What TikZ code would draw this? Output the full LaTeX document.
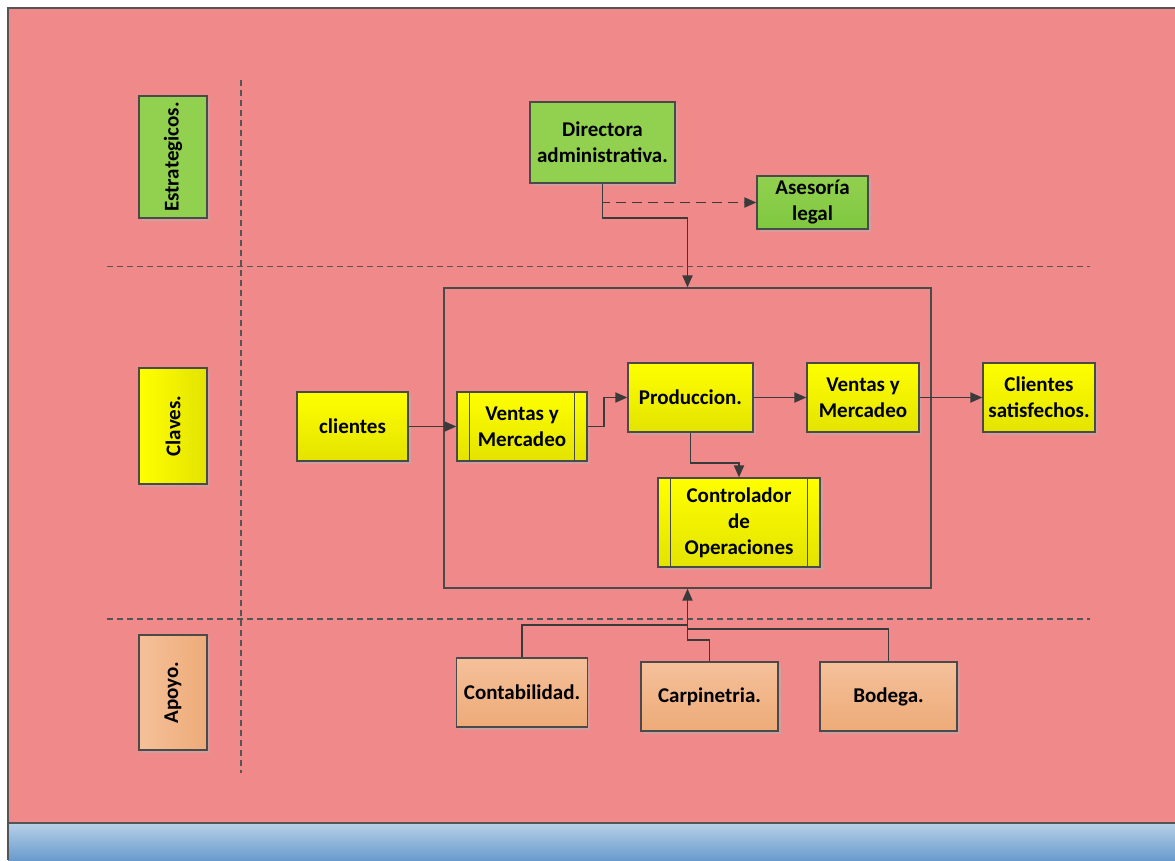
\documentclass[tikz,border=0pt]{standalone}
\usepackage{fontspec}
\setmainfont{Carlito}
\usetikzlibrary{arrows.meta,shadows}
\definecolor{bgpink}{HTML}{F08989}
\definecolor{bandtop}{HTML}{B7D0E6}
\definecolor{bandbot}{HTML}{6A9BCE}
\definecolor{framegray}{HTML}{555555}
\definecolor{linegray}{HTML}{3A3A3A}
\definecolor{boxline}{HTML}{4A4A4A}
\definecolor{gr}{HTML}{92D050}
\definecolor{grdark}{HTML}{7FC83F}
\definecolor{ylw}{HTML}{FFFF00}
\definecolor{ylwdark}{HTML}{E3E300}
\definecolor{org}{HTML}{F5C09A}
\definecolor{orgdark}{HTML}{EDAB78}
\definecolor{shadowgray}{HTML}{B4B4B4}
\begin{document}
\begin{tikzpicture}[x=1pt,y=-1pt,
  every node/.style={font=\fontsize{21}{26}\selectfont\bfseries, align=center, inner sep=0pt},
  bx/.style={draw=boxline, line width=1.2pt,
    drop shadow={shadow xshift=2.5pt, shadow yshift=-2.5pt, fill=shadowgray, opacity=0.5}},
  grbox/.style={bx, fill=gr},
  grshade/.style={bx, top color=gr, bottom color=grdark},
  ybox/.style={bx, top color=ylw, bottom color=ylwdark},
  yside/.style={bx, left color=ylw, right color=ylwdark},
  obox/.style={bx, top color=org, bottom color=orgdark},
  oside/.style={bx, left color=org, right color=orgdark},
  conn/.style={draw=linegray, line width=1.8pt},
  arr/.style={conn, -{Triangle[length=12pt,width=10pt]}},
  dashline/.style={draw=framegray, line width=1.1pt, dash pattern=on 6pt off 4pt},
  sidetext/.style={rotate=90},
  inner/.style={draw=boxline, line width=1.2pt}
]
\useasboundingbox (0,0) rectangle (1175,860);
\fill[white] (0,0) rectangle (1175,860);
\fill[bgpink] (8,8) rectangle (1175,823);
\shade[top color=bandtop, bottom color=bandbot] (8,823) rectangle (1175,860);
\draw[framegray, line width=1.2pt] (8,860) -- (8,8) -- (1175,8);
\draw[framegray, line width=1.6pt] (8,823) -- (1175,823);

% separators
\draw[dashline] (241,80) -- (241,773);
\draw[dashline] (107,266.5) -- (1090,266.5);
\draw[dashline] (107,619) -- (1090,619);

% side labels
\node[grbox, minimum width=68pt, minimum height=122pt] (estr) at (173,157) {};
\node[sidetext] (estrt) at (estr) {Estrategicos.};
\node[yside, minimum width=68pt, minimum height=116pt] (clav) at (173,426) {};
\node[sidetext] (clavt) at (clav) {Claves.};
\node[oside, minimum width=68pt, minimum height=115pt] (apoy) at (173,692.5) {};
\node[sidetext] (apoyt) at (apoy) {Apoyo.};

% strategic
\node[grbox, minimum width=145pt, minimum height=81pt] (dir) at (602.5,142.5) {Directora\\administrativa.};
\node[grshade, minimum width=111pt, minimum height=53pt] (ases) at (812.5,202.5) {Asesoría\\legal};

% big frame
\node[draw=boxline, line width=1.2pt, minimum width=487pt, minimum height=300pt] (big) at (687.5,438) {};

% key processes
\node[ybox, minimum width=111pt, minimum height=69pt] (cli) at (352.5,426.5) {clientes};
\node[ybox, minimum width=130pt, minimum height=69pt] (v1) at (522,426.5) {Ventas y\\Mercadeo};
\draw[inner] ([xshift=13pt]v1.north west) -- ([xshift=13pt]v1.south west);
\draw[inner] ([xshift=-13pt]v1.north east) -- ([xshift=-13pt]v1.south east);
\node[ybox, minimum width=125pt, minimum height=69pt] (prod) at (690.5,397.5) {Produccion.};
\node[ybox, minimum width=112pt, minimum height=69pt] (v2) at (863,397.5) {Ventas y\\Mercadeo};
\node[ybox, minimum width=112pt, minimum height=69pt] (cs) at (1039,397.5) {Clientes\\satisfechos.};
\node[ybox, minimum width=162pt, minimum height=89pt] (ctrl) at (739,522.5) {Controlador\\de\\Operaciones};
\draw[inner] ([xshift=13pt]ctrl.north west) -- ([xshift=13pt]ctrl.south west);
\draw[inner] ([xshift=-13pt]ctrl.north east) -- ([xshift=-13pt]ctrl.south east);

% support
\node[obox, minimum width=131pt, minimum height=69pt] (cont) at (522,692.5) {Contabilidad.};
\node[obox, minimum width=137pt, minimum height=69pt] (carp) at (709.5,696.5) {Carpinetria.};
\node[obox, minimum width=137pt, minimum height=69pt] (bod) at (888.5,696.5) {Bodega.};

% connectors
\draw[conn, dash pattern=on 10pt off 6pt, -{Triangle[length=12pt,width=10pt]}] (dir.south) |- (ases.west);
\draw[arr] (dir.south) -- ++(0,34) -| (big.north);
\draw[arr] (cli) -- (v1);
\draw[arr] (v1.east) -- ++(16,0) |- (prod.west);
\draw[arr] (prod) -- (v2);
\draw[arr] (v2) -- (cs);
\draw[arr] (prod.south) -- ++(0,30) -| (ctrl.north);

\coordinate (j1) at (687.5,625);
\coordinate (j2) at (687.5,629);
\coordinate (j3) at (687.5,640);
\draw[conn] (cont.north) |- (j1);
\draw[conn] (bod.north) |- (j2);
\draw[conn] (carp.north) |- (j3) -- (j1);
\draw[arr] (j1) -- (big.south);
\end{tikzpicture}
\end{document}
